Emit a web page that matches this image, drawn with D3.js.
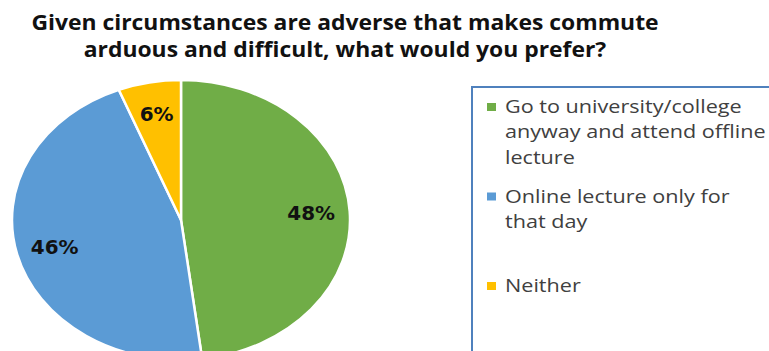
<!DOCTYPE html>
<html>
<head>
<meta charset="utf-8">
<script src="https://cdn.jsdelivr.net/npm/d3@7"></script>
<style>
  html, body { margin: 0; padding: 0; background: #fff; overflow: hidden; }
</style>
</head>
<body>
<svg id="chart" width="769" height="351"></svg>
<script>
const titleLines = ["Given circumstances are adverse that makes commute", "arduous and difficult, what would you prefer?"];
const categories = ["Go to university/college anyway and attend offline lecture", "Online lecture only for that day", "Neither"];
const values = [48, 46, 6];
const colors = ["#70AD47", "#5B9BD5", "#FFC000"];
const legendLines = [
  ["Go to university/college", "anyway and attend offline", "lecture"],
  ["Online lecture only for", "that day"],
  ["Neither"]
];

const svg = d3.select("#chart");

// Title (source image is horizontally stretched)
svg.append("g").selectAll("text").data(titleLines).join("text")
  .attr("transform", (d, i) => `translate(345,${30 + i * 27}) scale(1.09,1)`)
  .attr("text-anchor", "middle")
  .attr("font-family", "'Open Sans', sans-serif")
  .attr("font-weight", "bold")
  .attr("font-size", 21)
  .attr("fill", "#111")
  .text(d => d);

// Pie (elliptical)
const cx = 181, cy = 220, ry = 140, rx = 169;
const sx = rx / ry;
const data = categories.map((c, i) => ({ name: c, value: values[i], color: colors[i] }));
const pie = d3.pie().sort(null).value(d => d.value);
const arcs = pie(data);
const arc = d3.arc().innerRadius(0).outerRadius(ry);

const pg = svg.append("g").attr("transform", `translate(${cx},${cy}) scale(${sx},1)`);
pg.selectAll("path").data(arcs).join("path")
  .attr("d", arc)
  .attr("fill", d => d.data.color)
  .attr("stroke", "#fff")
  .attr("stroke-width", 2.5)
  .attr("vector-effect", "non-scaling-stroke");

// Labels
const labelArc = d3.arc().innerRadius(108).outerRadius(108);
svg.append("g").selectAll("text").data(arcs).join("text")
  .attr("transform", d => `translate(${cx + labelArc.centroid(d)[0] * sx},${cy + labelArc.centroid(d)[1]}) scale(1.05,1)`)
  .attr("dy", "0.36em")
  .attr("text-anchor", "middle")
  .attr("font-family", "'DejaVu Sans', sans-serif")
  .attr("font-weight", "bold")
  .attr("font-size", 19)
  .attr("fill", "#111")
  .text(d => d3.format(".0f")(d.data.value) + "%");

// Legend
svg.append("rect")
  .attr("x", 472).attr("y", 87)
  .attr("width", 400).attr("height", 400)
  .attr("fill", "none")
  .attr("stroke", "#4F81BD")
  .attr("stroke-width", 2);

const legendY = d3.scalePoint().domain(d3.range(categories.length)).range([113, 292]);
const lg = svg.append("g").selectAll("g").data(data).join("g")
  .attr("transform", (d, i) => `translate(0,${legendY(i)})`);
lg.append("rect")
  .attr("x", 487).attr("y", -10)
  .attr("width", 9).attr("height", 8)
  .attr("fill", d => d.color);
lg.append("text")
  .attr("transform", "translate(505,0) scale(1.2,1)")
  .attr("font-family", "'Open Sans', sans-serif")
  .attr("font-size", 18)
  .attr("fill", "#404040")
  .selectAll("tspan").data((d, i) => legendLines[i]).join("tspan")
  .attr("x", 0)
  .attr("y", (d, j) => j * 25.5)
  .text(d => d);
</script>
</body>
</html>
